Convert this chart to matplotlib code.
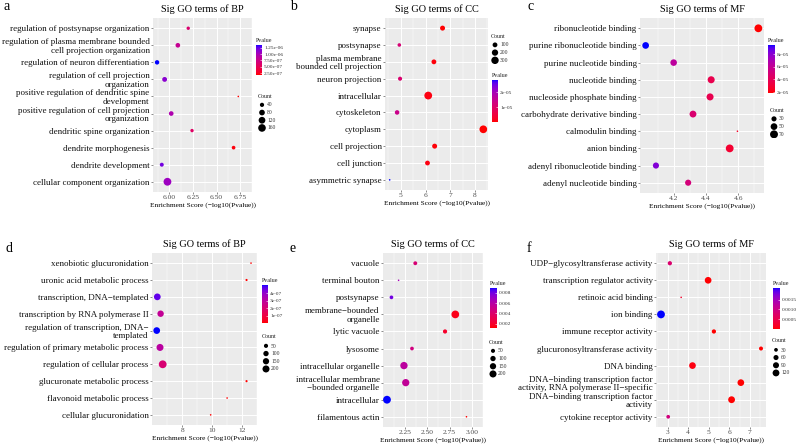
import numpy as np
import matplotlib
matplotlib.use("Agg")
import matplotlib.pyplot as plt
from matplotlib.colors import ListedColormap, Normalize
from matplotlib.cm import ScalarMappable

plt.rcParams['font.family'] = ['Liberation Serif', 'DejaVu Serif']

# ---- data ----
a_terms = ["regulation of postsynapse organization",
           "regulation of plasma membrane bounded\ncell projection organization",
           "regulation of neuron differentiation",
           "regulation of cell projection\norganization",
           "positive regulation of dendritic spine\ndevelopment",
           "positive regulation of cell projection\norganization",
           "dendritic spine organization",
           "dendrite morphogenesis",
           "dendrite development",
           "cellular component organization"]
a_score = [6.20, 6.09, 5.87, 5.95, 6.73, 6.02, 6.24, 6.68, 5.92, 5.98]
a_count = [25, 50, 45, 55, 12, 50, 25, 30, 35, 170]

b_terms = ["synapse", "postsynapse", "plasma membrane\nbounded cell projection",
           "neuron projection", "intracellular", "cytoskeleton", "cytoplasm",
           "cell projection", "cell junction", "asymmetric synapse"]
b_score = [6.69, 4.94, 6.34, 4.97, 6.11, 4.85, 8.34, 6.37, 6.08, 4.55]
b_count = [110, 45, 100, 65, 340, 85, 330, 110, 100, 12]

c_terms = ["ribonucleotide binding", "purine ribonucleotide binding",
           "purine nucleotide binding", "nucleotide binding",
           "nucleoside phosphate binding", "carbohydrate derivative binding",
           "calmodulin binding", "anion binding",
           "adenyl ribonucleotide binding", "adenyl nucleotide binding"]
c_score = [4.726, 4.026, 4.20, 4.433, 4.426, 4.32, 4.596, 4.548, 4.09, 4.29]
c_count = [68, 50, 48, 55, 55, 52, 12, 68, 42, 42]

d_terms = ["xenobiotic glucuronidation", "uronic acid metabolic process",
           "transcription, DNA\u2212templated", "transcription by RNA polymerase II",
           "regulation of transcription, DNA\u2212\ntemplated",
           "regulation of primary metabolic process",
           "regulation of cellular process", "glucuronate metabolic process",
           "flavonoid metabolic process", "cellular glucuronidation"]
d_score = [12.6, 12.3, 6.33, 6.55, 6.29, 6.51, 6.69, 12.3, 11.0, 9.9]
d_count = [8, 10, 180, 160, 180, 200, 260, 10, 8, 8]

e_terms = ["vacuole", "terminal bouton", "postsynapse",
           "membrane\u2212bounded\norganelle", "lytic vacuole", "lysosome",
           "intracellular organelle",
           "intracellular membrane\n\u2212bounded organelle",
           "intracellular", "filamentous actin"]
e_score = [2.367, 2.18, 2.10, 2.815, 2.70, 2.33, 2.24, 2.26, 2.05, 2.94]
e_count = [45, 12, 40, 250, 55, 40, 220, 215, 255, 12]

f_terms = ["UDP\u2212glycosyltransferase activity", "transcription regulator activity",
           "retinoic acid binding", "ion binding", "immune receptor activity",
           "glucuronosyltransferase activity", "DNA binding",
           "DNA\u2212binding transcription factor\nactivity, RNA polymerase II\u2212specific",
           "DNA\u2212binding transcription factor\nactivity",
           "cytokine receptor activity"]
f_score = [3.11, 4.97, 3.66, 2.68, 5.25, 7.54, 4.21, 6.56, 6.11, 3.03]
f_count = [40, 115, 12, 165, 40, 35, 115, 115, 120, 30]

titles = ["Sig GO terms of BP", "Sig GO terms of CC", "Sig GO terms of MF",
          "Sig GO terms of BP", "Sig GO terms of CC", "Sig GO terms of MF"]
letters = ["a", "b", "c", "d", "e", "f"]

x_ticks = [[6.00, 6.25, 6.50, 6.75], [5, 6, 7, 8], [4.2, 4.4, 4.6],
           [8, 10, 12], [2.25, 2.50, 2.75, 3.00], [3, 4, 5, 6, 7]]
x_fmt = ["{:.2f}", "{:.0f}", "{:.1f}", "{:.0f}", "{:.2f}", "{:.0f}"]

count_breaks = [[40, 80, 120, 160], [100, 200, 300], [30, 50, 70],
                [50, 100, 150, 200], [50, 100, 150, 200], [30, 60, 90, 120]]
p_breaks = [[2.5e-7, 5e-7, 7.5e-7, 1e-6, 1.25e-6], [1e-5, 2e-5],
            [2e-5, 4e-5, 6e-5, 8e-5], [1e-7, 2e-7, 3e-7, 4e-7],
            [0.002, 0.004, 0.006, 0.008], [0.0005, 0.0010, 0.0015]]
p_fmt = ["{:.2e}", "{:.0e}", "{:.0e}", "{:.0e}", "{:.3f}", "{:.4f}"]

W, H = 800, 446


def px(x0, y0, x1, y1):
    return [x0 / W, 1 - y1 / H, (x1 - x0) / W, (y1 - y0) / H]


# layout in pixels: panel, colorbar, count legend, letter
panel_px = [(153, 18, 252, 192), (385, 18, 488, 190), (640, 18, 764, 193),
            (152, 253, 257, 425), (383, 253, 483, 427), (656, 253, 766, 427)]
cbar_px = [(256, 45, 262, 75), (492, 80, 498, 122), (768, 45, 775, 93),
           (262, 285, 268, 323), (490, 288, 497, 328), (773, 288, 780, 329)]
count_px = [(258, 96), (491, 36), (770, 110), (262, 337), (489, 342), (772, 341)]
letter_px = [(3, 7), (290, 6), (528, 6), (5, 248), (289, 248), (527, 248)]


# ggplot-like red -> blue gradient in Lab space
def srgb_to_lab(c):
    c = np.asarray(c, float)
    lin = np.where(c <= 0.04045, c / 12.92, ((c + 0.055) / 1.055) ** 2.4)
    M = np.array([[0.4124, 0.3576, 0.1805], [0.2126, 0.7152, 0.0722],
                  [0.0193, 0.1192, 0.9505]])
    xyz = M @ lin / np.array([0.95047, 1.0, 1.08883])
    f = np.where(xyz > 0.008856, np.cbrt(xyz), 7.787 * xyz + 16 / 116)
    return np.array([116 * f[1] - 16, 500 * (f[0] - f[1]), 200 * (f[1] - f[2])])


def lab_to_srgb(lab):
    L, a, b = lab
    fy = (L + 16) / 116
    f = np.array([fy + a / 500, fy, fy - b / 200])
    xyz = np.where(f ** 3 > 0.008856, f ** 3, (f - 16 / 116) / 7.787)
    xyz = xyz * np.array([0.95047, 1.0, 1.08883])
    Minv = np.array([[3.2406, -1.5372, -0.4986], [-0.9689, 1.8758, 0.0415],
                     [0.0557, -0.2040, 1.0570]])
    lin = np.clip(Minv @ xyz, 0, 1)
    c = np.where(lin <= 0.0031308, 12.92 * lin, 1.055 * lin ** (1 / 2.4) - 0.055)
    return np.clip(c, 0, 1)


lab_lo = srgb_to_lab([1, 0, 0])
lab_hi = srgb_to_lab([0, 0, 1])
cmap = ListedColormap([lab_to_srgb(lab_lo + t * (lab_hi - lab_lo))
                       for t in np.linspace(0, 1, 256)])


def diam_px(c, cmin, cmax):
    r = (np.asarray(c, float) - cmin) / (cmax - cmin)
    return 1.6 + (7.8 - 1.6) * np.sqrt(np.clip(r, 0, None))


def s_pt(c, cmin, cmax):
    return (diam_px(c, cmin, cmax) * 72 / 100) ** 2


fig = plt.figure(figsize=(8, 4.46), dpi=100)

panels = [(a_terms, a_score, a_count), (b_terms, b_score, b_count),
          (c_terms, c_score, c_count), (d_terms, d_score, d_count),
          (e_terms, e_score, e_count), (f_terms, f_score, f_count)]

for i, (terms, score, count) in enumerate(panels):
    score = np.array(score)
    pval = 10.0 ** (-score)
    n = len(terms)
    ypos = np.arange(n)[::-1]
    cmin, cmax = min(count), max(count)
    norm = Normalize(pval.min(), pval.max())

    ax = fig.add_axes(px(*panel_px[i]))
    ax.set_facecolor('#EBEBEB')
    ax.scatter(score, ypos, s=s_pt(count, cmin, cmax), c=pval, cmap=cmap,
               norm=norm, linewidths=0, zorder=3)
    rng = score.max() - score.min()
    ax.set_xlim(score.min() - 0.05 * rng, score.max() + 0.05 * rng)
    ax.set_ylim(-0.6, n - 0.4)
    ax.set_yticks(ypos)
    ax.set_yticklabels(terms)
    for lbl in ax.get_yticklabels():
        lbl.set_linespacing(1.1)
    xt = x_ticks[i]
    ax.set_xticks(xt)
    ax.set_xticklabels([x_fmt[i].format(v) for v in xt])
    d = xt[1] - xt[0]
    ax.set_xticks([xt[0] - d / 2] + [v + d / 2 for v in xt], minor=True)
    ax.grid(True, which='major', color='white', lw=0.7, zorder=0)
    ax.grid(True, which='minor', axis='x', color='white', lw=0.35, zorder=0)
    ax.set_axisbelow(True)
    for sp in ax.spines.values():
        sp.set_visible(False)
    ax.tick_params(axis='y', labelsize=6.5, length=1.5, width=0.4,
                   color='#333333', labelcolor='#111111', pad=1)
    ax.tick_params(axis='x', which='major', labelsize=5.4, length=1.5, width=0.4,
                   color='#333333', labelcolor='#4D4D4D', pad=1)
    ax.tick_params(axis='x', which='minor', length=0)
    ax.set_title(titles[i], fontsize=7.4, pad=4)
    ax.set_xlabel("Enrichment Score (\u2212log10(Pvalue))", fontsize=5.3,
                  labelpad=1.5)

    # colour bar
    cax = fig.add_axes(px(*cbar_px[i]))
    cb = fig.colorbar(ScalarMappable(norm=norm, cmap=cmap), cax=cax)
    cb.outline.set_visible(False)
    cb.set_ticks(p_breaks[i])
    cb.set_ticklabels([p_fmt[i].format(v) for v in p_breaks[i]])
    cax.tick_params(labelsize=3.9, length=1.2, width=0.4, color='white',
                    direction='in', pad=1.5, labelcolor='#333333')
    cx0, cy0, cx1, cy1 = cbar_px[i]
    fig.text(cx0 / W, 1 - (cy0 - 2) / H, "Pvalue", fontsize=4.3, ha='left',
             va='bottom', color='#222222')

    # count legend
    lx, ly = count_px[i]
    breaks = count_breaks[i]
    fig.text(lx / W, 1 - ly / H, "Count", fontsize=4.3, ha='left',
             va='center', color='#222222')
    step = 7.6
    for k, v in enumerate(breaks):
        yk = ly + 9 + k * step
        fig.text((lx + 9) / W, 1 - yk / H, str(v), fontsize=4.0, ha='left',
                 va='center', color='#333333')
    lax = fig.add_axes(px(lx, ly + 5, lx + 8, ly + 13 + (len(breaks) - 1) * step))
    lax.axis('off')
    lax.set_xlim(0, 1)
    lax.set_ylim(len(breaks) - 0.5, -0.5)
    lax.scatter(np.full(len(breaks), 0.5), np.arange(len(breaks)),
                s=s_pt(breaks, cmin, cmax), color='black', linewidths=0)

    fig.text(letter_px[i][0] / W, 1 - letter_px[i][1] / H, letters[i],
             fontsize=10, ha='left', va='center')

fig.savefig("out.png", dpi=100)
